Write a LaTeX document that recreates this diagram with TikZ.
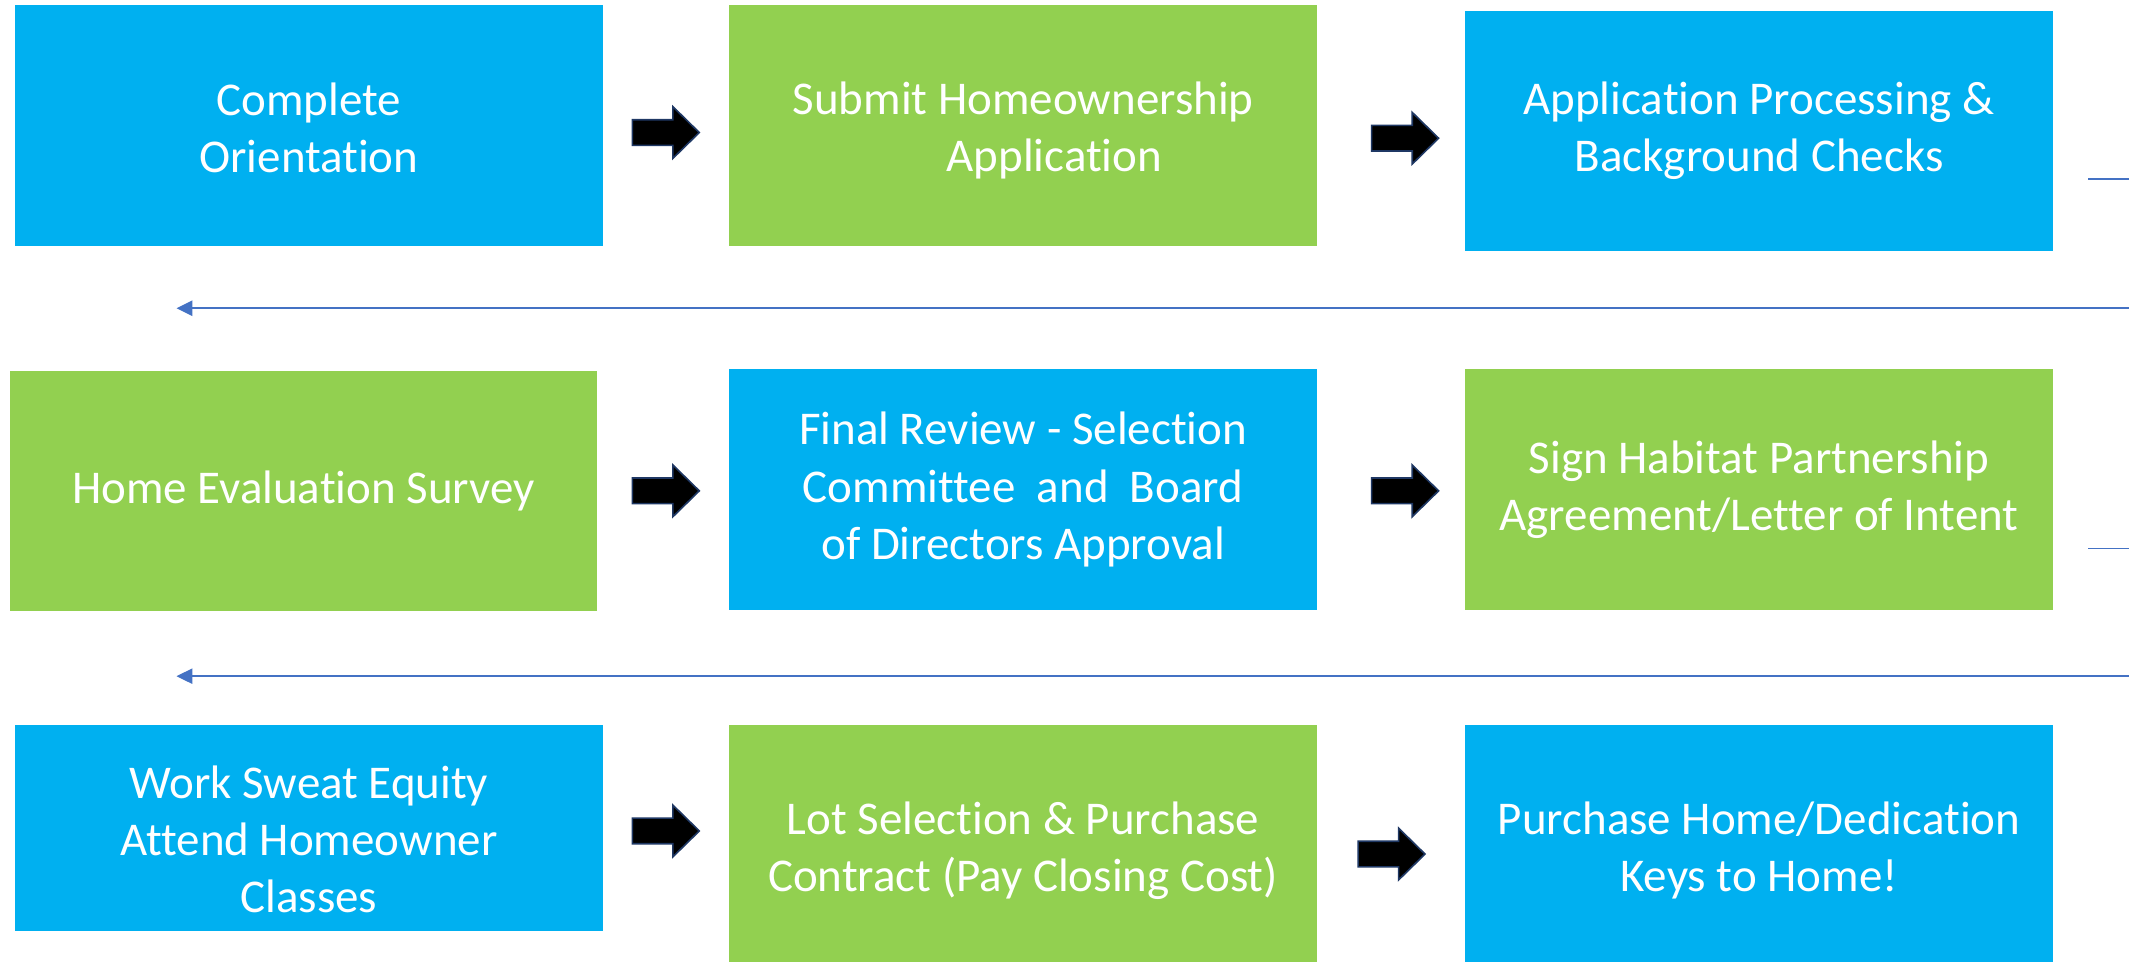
\documentclass[tikz,border=0pt]{standalone}
\usepackage{fontspec}
\setmainfont{Carlito}[Ligatures=NoCommon]
\usetikzlibrary{arrows.meta}
\definecolor{boxblue}{HTML}{00B0F0}
\definecolor{boxgreen}{HTML}{92D050}
\definecolor{connblue}{HTML}{4472C4}
\definecolor{arrowedge}{HTML}{1F3864}
\tikzset{
  stepbox/.style={rectangle, inner sep=0pt, minimum width=216.5pt, minimum height=88.5pt,
    text=white, align=center, font=\fontsize{17.3pt}{21pt}\selectfont},
  bluebox/.style={stepbox, fill=boxblue},
  greenbox/.style={stepbox, fill=boxgreen},
  boxtext/.style={inner sep=0pt, text=white, align=center, font=\fontsize{17.3pt}{21pt}\selectfont},
  blockarrow/.style={fill=black, draw=arrowedge, line width=0.6pt, line join=miter},
  conn/.style={draw=connblue, line width=0.55pt},
}
\newcommand{\blockarrowat}[1]{%
  \draw[blockarrow] (#1) ++(-24.8,-9.45) -- ++(29.9,0) -- ++(0,-9.55) -- ++(19.4,19)
    -- ++(-19.4,19) -- ++(0,-9.55) -- ++(-29.9,0) -- cycle;}
\begin{document}
\begin{tikzpicture}[x=0.5pt,y=-0.5pt]
\useasboundingbox (0,0) rectangle (1568,708);
\clip (0,0) rectangle (1568,708);
% row 1
\node[bluebox]  (b1) at (227.5,92.5) {};
\node[boxtext]  (t1) at ([yshift=-0.75pt]b1.center) {Complete\\Orientation};
\node[greenbox] (b2) at (753.5,92.5) {};
\node[boxtext]  (t2) at ([yshift=-1.75pt]b2.center) {Submit Homeownership\\\hspace*{23pt}Application};
\node[bluebox]  (b3) at (1295.5,96.5) {Application Processing \&\\Background Checks};
% row 2
\node[greenbox] (b4) at (223.5,361.5) {Home Evaluation Survey};
\node[bluebox]  (b5) at (753.5,360.5) {Final Review - Selection\\Committee\ \ and\ \ Board\\of Directors Approval};
\node[greenbox] (b6) at (1295.5,360.5) {Sign Habitat Partnership\\Agreement/Letter of Intent};
% row 3
\node[bluebox, minimum height=76pt]  (b7) at (227.5,610) {};
\node[boxtext]  (t7) at ([yshift=-4pt]b7.center) {Work Sweat Equity\\Attend Homeowner\\Classes};
\node[greenbox, minimum height=92.5pt] (b8) at (753.5,626.5) {Lot Selection \& Purchase\\Contract (Pay Closing Cost)};
\node[bluebox, minimum height=92.5pt]  (b9) at (1295.5,626.5) {Purchase Home/Dedication\\Keys to Home!};
% block arrows
\coordinate (a1) at (490.5,97.6);
\coordinate (a2) at (1035,101.8);
\coordinate (a3) at (490.5,361.5);
\coordinate (a4) at (1035,361.5);
\coordinate (a5) at (490.5,612);
\coordinate (a6) at (1025,629);
\blockarrowat{a1}
\blockarrowat{a2}
\blockarrowat{a3}
\blockarrowat{a4}
\blockarrowat{a5}
\blockarrowat{a6}
% bending connectors
\coordinate (s1) at (1538,132);
\coordinate (e1) at (130,227);
\coordinate (s2) at (1538,404);
\coordinate (e2) at (130,498);
\draw[conn, -{Triangle[length=5.8pt,width=5.6pt]}] (s1) -- ++(80,0) |- (e1);
\draw[conn, -{Triangle[length=5.8pt,width=5.6pt]}] (s2) -- ++(80,0) |- (e2);
\end{tikzpicture}
\end{document}
